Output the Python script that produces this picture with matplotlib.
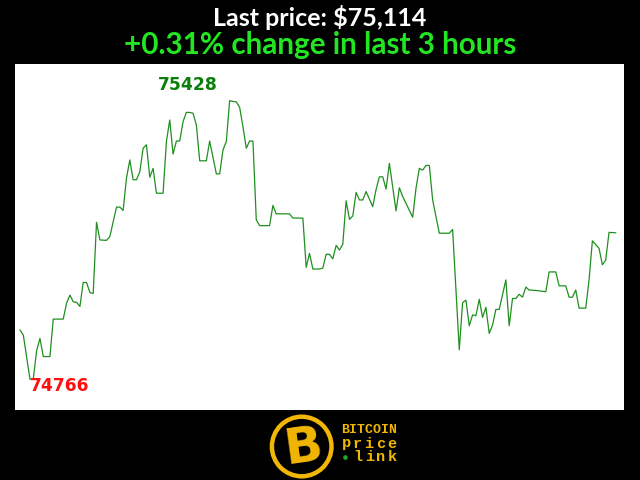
import matplotlib
matplotlib.use("Agg")
import matplotlib.pyplot as plt
from matplotlib.patches import Circle

# minute index within the last 3 hours, and BTC price at that minute
minutes = [0, 1, 3, 4, 5, 6, 7, 9, 10, 13, 14, 15, 16, 17, 18, 19, 20, 21, 22, 23,
           24, 26, 27, 29, 30, 31, 32, 33, 34, 35, 36, 37, 38, 39, 40, 41, 43, 44, 45, 46,
           47, 48, 49, 50, 51, 52, 53, 54, 56, 57, 59, 60, 61, 62, 63, 64, 65, 66, 67, 68,
           69, 70, 71, 72, 75, 76, 77, 81, 82, 85, 86, 87, 88, 90, 91, 92, 93, 94, 95, 96,
           97, 98, 99, 100, 101, 102, 103, 104, 106, 107, 108, 109, 110, 111, 113, 114, 115, 118, 119, 120,
           121, 122, 123, 124, 126, 129, 130, 132, 133, 134, 135, 136, 137, 138, 139, 140, 141, 142, 143, 144,
           146, 147, 148, 149, 150, 151, 152, 153, 155, 158, 159, 161, 162, 164, 165, 166, 167, 168, 170, 171,
           172, 174, 175, 176, 177, 179]
prices = [74883, 74871, 74766, 74767, 74834, 74863, 74820, 74820, 74909, 74909, 74947, 74966, 74950, 74949, 74939, 74996, 74996, 74972, 74970, 75139,
          75097, 75096, 75105, 75175, 75175, 75167, 75244, 75287, 75240, 75240, 75259, 75315, 75323, 75246, 75267, 75208, 75208, 75331, 75382, 75301,
          75332, 75332, 75378, 75400, 75400, 75398, 75370, 75285, 75285, 75332, 75254, 75254, 75311, 75331, 75428, 75426, 75425, 75412, 75366, 75315,
          75332, 75332, 75145, 75131, 75131, 75179, 75159, 75159, 75149, 75149, 75032, 75065, 75028, 75028, 75030, 75063, 75063, 75052, 75084, 75073,
          75087, 75190, 75146, 75154, 75210, 75192, 75192, 75212, 75176, 75217, 75247, 75247, 75218, 75279, 75166, 75221, 75200, 75151, 75220, 75267,
          75263, 75274, 75274, 75192, 75113, 75113, 75122, 74836, 74948, 74954, 74893, 74919, 74917, 74956, 74913, 74937, 74875, 74895, 74932, 74932,
          75002, 74893, 74958, 74958, 74968, 74961, 74985, 74978, 74977, 74974, 75021, 75021, 74988, 74988, 74961, 74961, 74978, 74935, 74935, 75002,
          75095, 75077, 75038, 75049, 75115, 75114]

last_price = prices[-1]
change = (prices[-1] - prices[0]) / prices[0] * 100
hi = max(prices)
lo = min(prices)
hi_i = minutes[prices.index(hi)]
lo_i = minutes[prices.index(lo)]

fig = plt.figure(figsize=(6.4, 4.8), dpi=100, facecolor="black")

fig.text(0.5, 0.964, "Last price: ${:,}".format(last_price), color="white",
         fontsize=18, fontweight="bold", family="Lato", ha="center", va="center")
fig.text(0.5, 0.906, "{:+.2f}% change in last 3 hours".format(change), color="#22e622",
         fontsize=21.3, fontweight="bold", family="Lato", ha="center", va="center")

ax = fig.add_axes([15 / 640, 70 / 480, 609 / 640, 346 / 480])
ax.set_facecolor("white")
ax.plot(minutes, prices, color="#1f8f1f", linewidth=0.9)
ax.set_xlim(-1.5, 181.5)
ax.set_ylim(74693, 75515)
ax.set_xticks([])
ax.set_yticks([])
for s in ax.spines.values():
    s.set_visible(False)

ax.annotate(str(hi), (hi_i, hi), xytext=(-52, 11.5), textcoords="offset points",
            color="#0a7f0a", fontsize=12.3, fontweight="bold", ha="left", va="center")
ax.annotate(str(lo), (lo_i, lo), xytext=(0, -4.5), textcoords="offset points",
            color="#ff1010", fontsize=12.3, fontweight="bold", ha="left", va="center")

# logo
gold = "#f2b705"
lax = fig.add_axes([262 / 640, 0, 150 / 640, 70 / 480])
lax.set_xlim(262, 412)
lax.set_ylim(480, 410)
lax.set_aspect("equal")
lax.axis("off")
lax.add_patch(Circle((301.7, 446.5), 29.8, facecolor="black", edgecolor=gold, linewidth=3.2))
lax.text(303, 447, "B", color=gold, fontsize=36, fontweight="heavy", family="DejaVu Sans",
         ha="center", va="center", rotation=8)
lax.text(341, 430, "BITCOIN", color=gold, fontsize=9.5, fontweight="bold",
         family="Liberation Mono", ha="left", va="center")
for k, ch in enumerate("price"):
    lax.text(346 + k * 11.5, 443.5, ch, color=gold, fontsize=11, fontweight="bold",
             family="Liberation Mono", ha="center", va="center")
for k, ch in enumerate("link"):
    lax.text(358 + k * 11.5, 457, ch, color=gold, fontsize=11, fontweight="bold",
             family="Liberation Mono", ha="center", va="center")
lax.add_patch(Circle((345.5, 457.5), 1.6, color="#22aa22"))

fig.savefig("out.png", dpi=100, facecolor="black")
